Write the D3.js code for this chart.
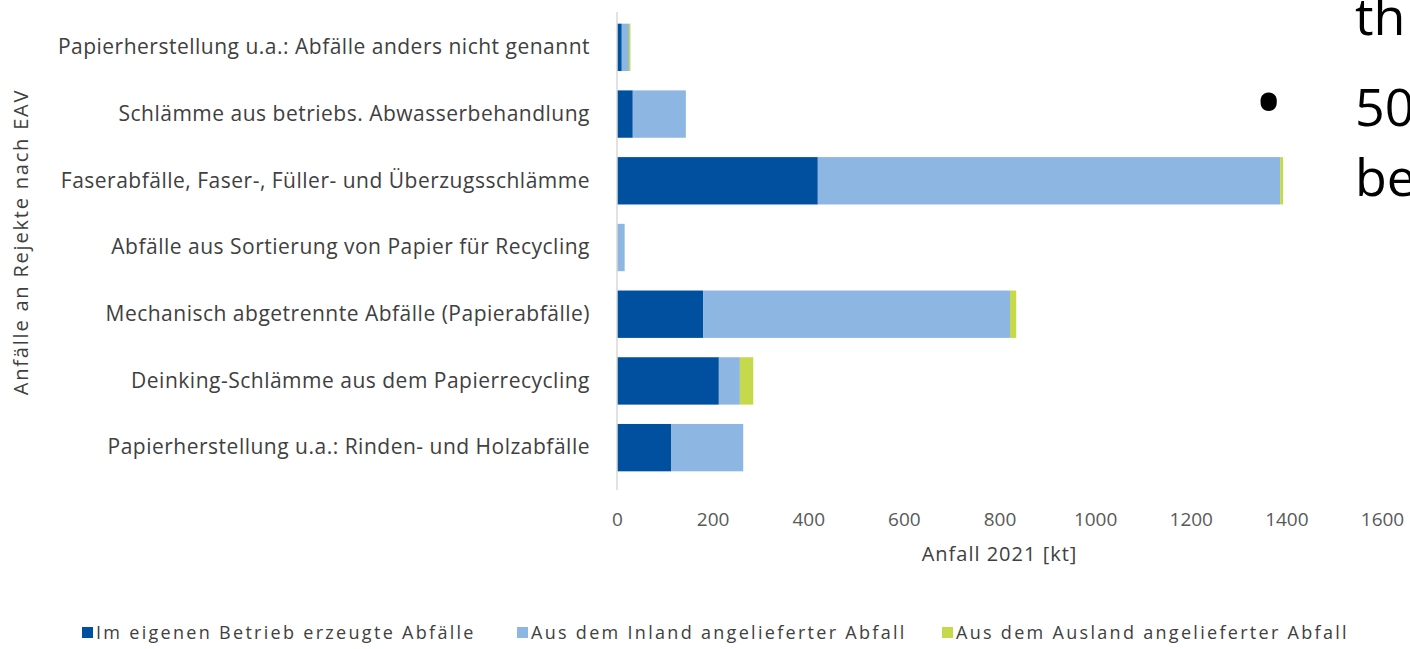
<!DOCTYPE html>
<html><head><meta charset="utf-8">
<script src="https://cdn.jsdelivr.net/npm/d3@7"></script>
<style>
html,body{margin:0;padding:0;background:#fff;overflow:hidden;}
svg{display:block;}
</style></head>
<body>
<svg id="c" width="1410" height="649"></svg>
<script>
const categories = [
  "Papierherstellung u.a.: Abfälle anders nicht genannt",
  "Schlämme aus betriebs. Abwasserbehandlung",
  "Faserabfälle, Faser-, Füller- und Überzugsschlämme",
  "Abfälle aus Sortierung von Papier für Recycling",
  "Mechanisch abgetrennte Abfälle (Papierabfälle)",
  "Deinking-Schlämme aus dem Papierrecycling",
  "Papierherstellung u.a.: Rinden- und Holzabfälle"
];
const eigen   = [10, 33, 420, 0, 180, 213, 113];
const inland  = [15, 111, 967, 16, 642, 44, 151];
const ausland = [3, 0, 6, 0, 13, 28, 0];
const seriesNames = ["Im eigenen Betrieb erzeugte Abfälle","Aus dem Inland angelieferter Abfall","Aus dem Ausland angelieferter Abfall"];
const seriesColors = ["#0050a0","#8db6e3","#c5d94a"];
const xTicks = [0,200,400,600,800,1000,1200,1400,1600];
const xTitle = "Anfall 2021 [kt]";
const yTitle = "Anfälle an Rejekte nach EAV";

(function(){
const svg = d3.select("#c");
const font = "'Open Sans', 'Liberation Sans', Arial, sans-serif";
const pL = 617, pR = 1382, pT = 14, pB = 481;

const x = d3.scaleLinear().domain([0,1600]).range([pL,pR]);
const y = d3.scaleBand().domain(categories).range([pT,pB]).paddingInner(0.29).paddingOuter(0.145);

const rows = categories.map((c,i)=>({cat:c, eigen:eigen[i], inland:inland[i], ausland:ausland[i]}));
const stack = d3.stack().keys(["eigen","inland","ausland"])(rows);

svg.append("g").selectAll("g").data(stack).join("g")
  .attr("fill",(d,i)=>seriesColors[i])
  .selectAll("rect").data(d=>d).join("rect")
  .attr("x",d=>x(d[0])).attr("width",d=>Math.max(0,x(d[1])-x(d[0])))
  .attr("y",d=>y(d.data.cat)).attr("height",y.bandwidth());

svg.append("line").attr("x1",pL).attr("x2",pL).attr("y1",pT-2).attr("y2",pB+9)
  .attr("stroke","#d9d9d9").attr("stroke-width",1.5);

const yAxis = svg.append("g").attr("transform",`translate(${pL},0)`)
  .call(d3.axisLeft(y).tickSize(0).tickPadding(27));
yAxis.select(".domain").remove();
yAxis.selectAll("text").attr("font-family",font).attr("font-size",21).attr("letter-spacing",0.5).attr("fill","#404040");

const xAxis = svg.append("g").attr("transform",`translate(0,${pB+16})`)
  .call(d3.axisBottom(x).tickValues(xTicks).tickSize(0).tickPadding(16).tickFormat(d3.format("d")));
xAxis.select(".domain").remove();
xAxis.selectAll("text").attr("font-family",font).attr("font-size",19).attr("fill","#595959");

svg.append("text").attr("x",(pL+pR)/2).attr("y",561).attr("text-anchor","middle")
  .attr("font-family",font).attr("font-size",20).attr("letter-spacing",1).attr("fill","#404040").text(xTitle);

svg.append("text").attr("transform","translate(28,242) rotate(-90)").attr("text-anchor","middle")
  .attr("font-family",font).attr("font-size",20).attr("letter-spacing",1.8).attr("fill","#404040").text(yTitle);

const legX = [82, 517, 942];
const leg = svg.append("g").selectAll("g").data(seriesNames).join("g")
  .attr("transform",(d,i)=>`translate(${legX[i]},633)`);
leg.append("rect").attr("x",0).attr("y",-6).attr("width",11).attr("height",11).attr("fill",(d,i)=>seriesColors[i]);
leg.append("text").attr("x",14).attr("y",6).attr("font-family",font).attr("font-size",18).attr("letter-spacing",2.3).attr("fill","#404040").text(d=>d);

const sf = "'Open Sans', 'Liberation Sans', sans-serif";
svg.append("text").attr("x",1355).attr("y",35).attr("font-family",sf).attr("font-size",52).attr("fill","#000").text("th");
svg.append("text").attr("x",1254).attr("y",131).attr("font-family",sf).attr("font-size",78).attr("fill","#000").text("•");
svg.append("text").attr("x",1355).attr("y",126).attr("font-family",sf).attr("font-size",52).attr("fill","#000").text("50");
svg.append("text").attr("x",1355).attr("y",196).attr("font-family",sf).attr("font-size",52).attr("fill","#000").text("be");
})();
</script>
</body></html>
